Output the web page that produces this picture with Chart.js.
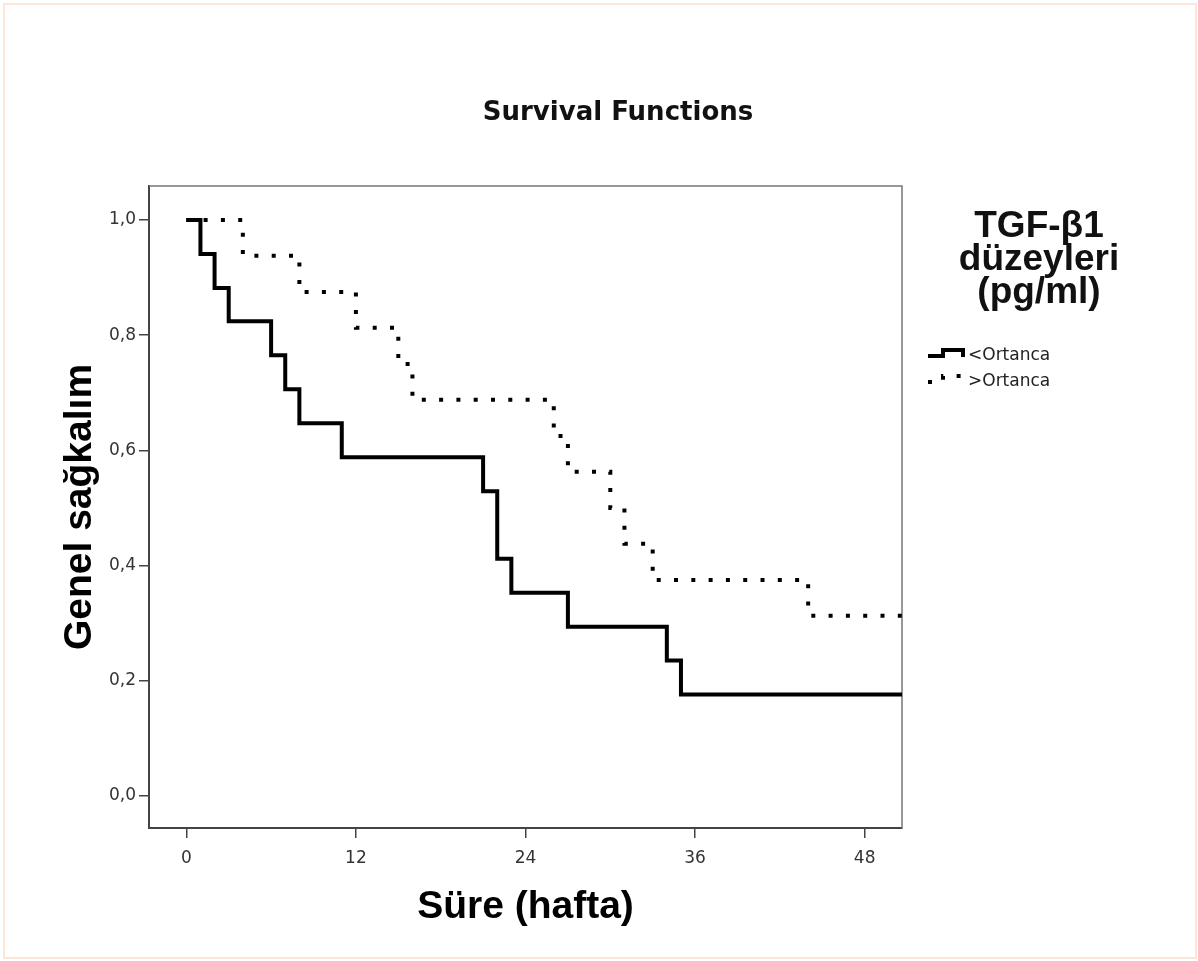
<!DOCTYPE html>
<html lang="tr">
<head>
<meta charset="utf-8">
<title>Survival Functions</title>
<script src="https://cdn.jsdelivr.net/npm/chart.js@4/dist/chart.umd.min.js"></script>
<style>
    html, body { margin: 0; padding: 0; background: #fff; }
    #wrap { position: relative; width: 1198px; height: 961px; }
    #frame {
        position: absolute; left: 3px; top: 3px; width: 1190px; height: 952px;
        border: 2px solid #fbe7da; pointer-events: none;
    }
</style>
</head>
<body>
<div id="wrap">
    <canvas id="survivalChart"></canvas>
    <div id="frame"></div>
</div>
<script>
// Kaplan-Meier verisi (hafta, kümülatif sağkalım)
const belowTimes = [0, 1, 2, 3, 6, 7, 8, 11, 21, 22, 23, 27, 34, 35, 52];
const belowSurvival = [1.0, 0.941, 0.882, 0.824, 0.765, 0.706, 0.647, 0.588, 0.529, 0.412, 0.353, 0.294, 0.235, 0.176, 0.176];

const aboveTimes = [0, 4, 8, 12, 15, 16, 26, 27, 30, 31, 33, 44, 52];
const aboveSurvival = [1.0, 0.938, 0.875, 0.813, 0.75, 0.688, 0.625, 0.563, 0.5, 0.438, 0.375, 0.313, 0.313];

const seriesNames = ['<Ortanca', '>Ortanca'];
const legendTitle = ['TGF-β1', 'düzeyleri', '(pg/ml)'];
const chartTitle = 'Survival Functions';
const xTitle = 'Süre (hafta)';
const yTitle = 'Genel sağkalım';

const xTicks = [0, 12, 24, 36, 48];
const yTicks = [0, 0.2, 0.4, 0.6, 0.8, 1.0];

function toPoints(times, values) {
    return times.map((t, i) => ({ x: t, y: values[i] }));
}

const DOT_DASH = [4, 13.3];

/**
 * Başlık, kutu kenarları ve sağdaki açıklama (SPSS görünümü)
 */
const panelPlugin = {
    id: 'panelPlugin',
    beforeDatasetsDraw(chart) {
        const { ctx, chartArea: a } = chart;
        ctx.save();
        ctx.strokeStyle = '#777';
        ctx.lineWidth = 1.5;
        ctx.beginPath();
        ctx.moveTo(a.left, a.top);
        ctx.lineTo(a.right, a.top);
        ctx.lineTo(a.right, a.bottom);
        ctx.stroke();
        ctx.restore();
    },
    afterDraw(chart) {
        const { ctx } = chart;
        ctx.save();

        // Grafik başlığı
        ctx.fillStyle = '#111';
        ctx.textAlign = 'center';
        ctx.textBaseline = 'middle';
        ctx.font = 'bold 26px "DejaVu Sans"';
        ctx.fillText(chartTitle, 618, 113);

        // Açıklama başlığı
        ctx.font = 'bold 37px "Liberation Sans"';
        ctx.textBaseline = 'alphabetic';
        legendTitle.forEach((line, i) => {
            ctx.fillText(line, 1039, 237 + i * 33);
        });

        // Açıklama öğeleri
        ctx.textAlign = 'left';
        ctx.textBaseline = 'middle';
        ctx.font = '17px "DejaVu Sans"';
        chart.data.datasets.forEach((ds, i) => {
            const x0 = 928;
            const yc = 356 + i * 26;
            ctx.save();
            ctx.strokeStyle = ds.borderColor;
            ctx.lineWidth = ds.borderWidth;
            ctx.setLineDash(ds.borderDash || []);
            ctx.lineCap = 'butt';
            ctx.lineJoin = 'miter';
            ctx.beginPath();
            ctx.moveTo(x0, yc);
            ctx.lineTo(x0 + 15, yc);
            ctx.lineTo(x0 + 15, yc - 6);
            ctx.lineTo(x0 + 35, yc - 6);
            ctx.lineTo(x0 + 35, yc + 1);
            ctx.stroke();
            ctx.restore();
            ctx.fillStyle = '#222';
            ctx.fillText(ds.label, 968, yc);
        });

        ctx.restore();
    }
};

let survivalChart = null;

function createSurvivalChart() {
    const canvas = document.getElementById('survivalChart');
    const ctx = canvas.getContext('2d');

    if (survivalChart) {
        survivalChart.destroy();
    }

    survivalChart = new Chart(ctx, {
        type: 'line',
        data: {
            datasets: [
                {
                    label: seriesNames[0],
                    data: toPoints(belowTimes, belowSurvival),
                    borderColor: '#000',
                    borderWidth: 4,
                    stepped: true,
                    pointRadius: 0,
                    fill: false,
                    clip: 0
                },
                {
                    label: seriesNames[1],
                    data: toPoints(aboveTimes, aboveSurvival),
                    borderColor: '#000',
                    borderWidth: 4,
                    borderDash: DOT_DASH,
                    stepped: true,
                    pointRadius: 0,
                    fill: false,
                    clip: 0
                }
            ]
        },
        options: {
            responsive: true,
            maintainAspectRatio: false,
            animation: false,
            layout: {
                padding: { left: 0, right: 296, top: 186, bottom: 0 }
            },
            plugins: {
                legend: { display: false },
                tooltip: { enabled: false }
            },
            scales: {
                x: {
                    type: 'linear',
                    min: -2.64,
                    max: 50.64,
                    afterFit: (scale) => { scale.height = 133; },
                    afterBuildTicks: (axis) => {
                        axis.ticks = xTicks.map(v => ({ value: v }));
                    },
                    grid: {
                        drawOnChartArea: false,
                        drawTicks: true,
                        tickLength: 10,
                        color: '#444',
                        lineWidth: 1.5
                    },
                    border: { display: true, color: '#444', width: 2 },
                    ticks: {
                        padding: 10,
                        color: '#333',
                        font: { family: 'DejaVu Sans', size: 17 },
                        maxRotation: 0,
                        callback: (value) => String(value)
                    },
                    title: {
                        display: true,
                        text: xTitle,
                        color: '#000',
                        font: { family: 'Liberation Sans', size: 39, weight: 'bold', lineHeight: 1.2 },
                        padding: { top: 0, bottom: 30.6 }
                    }
                },
                y: {
                    type: 'linear',
                    min: -0.0556,
                    max: 1.059,
                    afterFit: (scale) => { scale.width = 149; },
                    afterBuildTicks: (axis) => {
                        axis.ticks = yTicks.map(v => ({ value: v }));
                    },
                    grid: {
                        drawOnChartArea: false,
                        drawTicks: true,
                        tickLength: 10,
                        color: '#444',
                        lineWidth: 1.5
                    },
                    border: { display: true, color: '#444', width: 2 },
                    ticks: {
                        padding: 3,
                        color: '#333',
                        font: { family: 'DejaVu Sans', size: 17 },
                        callback: (value) => value.toFixed(1).replace('.', ',')
                    },
                    title: {
                        display: true,
                        text: yTitle,
                        color: '#000',
                        font: { family: 'Liberation Sans', size: 39, weight: 'bold', lineHeight: 1.2 },
                        padding: { top: 57, bottom: 0 }
                    }
                }
            }
        },
        plugins: [panelPlugin]
    });
}

createSurvivalChart();
</script>
</body>
</html>
